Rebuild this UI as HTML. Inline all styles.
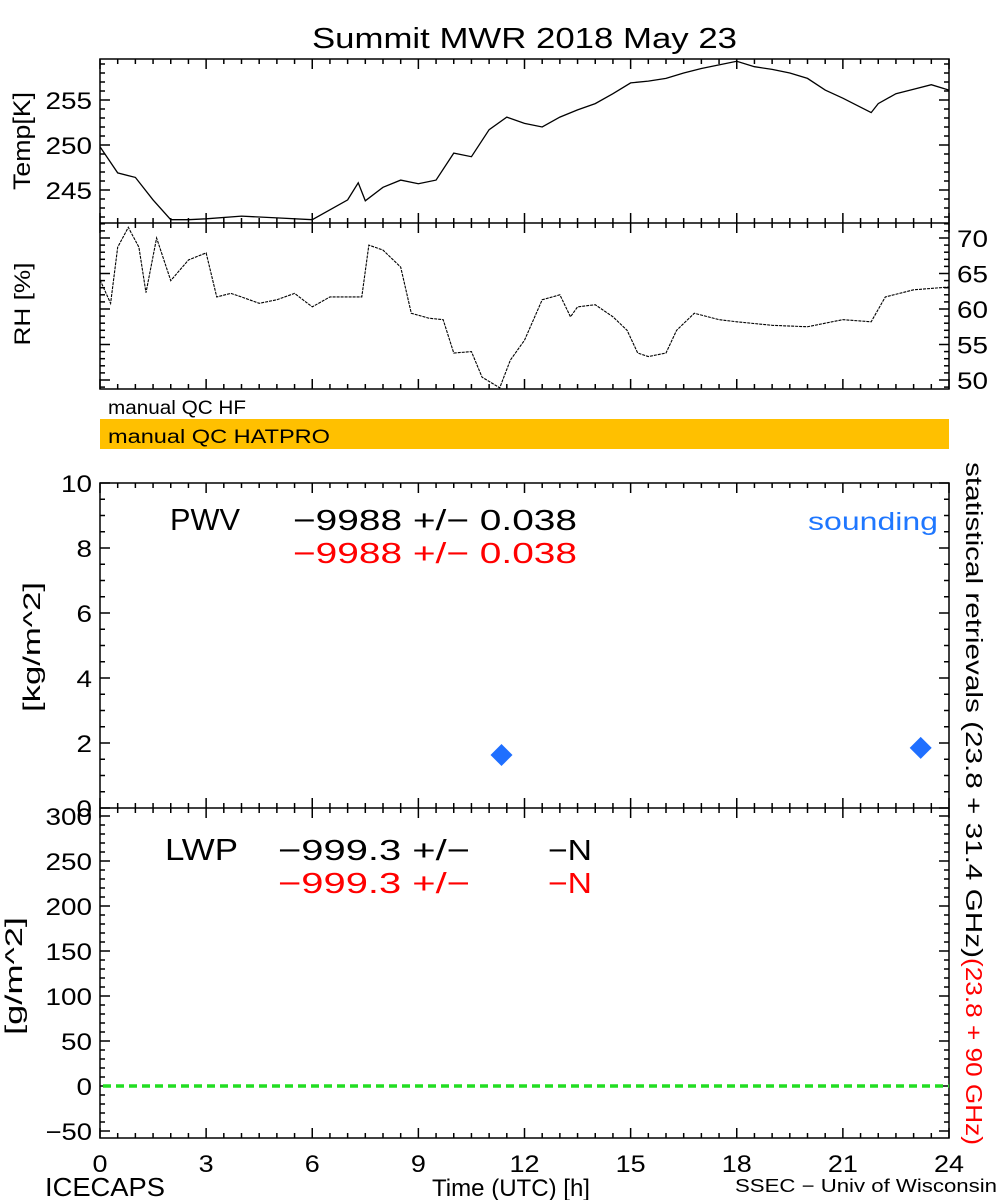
<!DOCTYPE html>
<html><head><meta charset="utf-8"><style>
html,body{margin:0;padding:0;background:#fff}
svg{display:block}
text{font-family:"Liberation Sans","DejaVu Sans",sans-serif}
</style></head><body>
<svg id="c" width="1000" height="1200" viewBox="0 0 1000 1200" xmlns="http://www.w3.org/2000/svg">
<text x="312" y="48" font-size="29" textLength="425" lengthAdjust="spacingAndGlyphs">Summit MWR 2018 May 23</text>
<text transform="translate(30,141) rotate(-90)" font-size="24" text-anchor="middle" textLength="98" lengthAdjust="spacingAndGlyphs">Temp[K]</text>
<text transform="translate(30,304) rotate(-90)" font-size="22" text-anchor="middle" textLength="83" lengthAdjust="spacingAndGlyphs">RH [%]</text>
<text transform="translate(40,647) rotate(-90)" font-size="24" text-anchor="middle" textLength="130" lengthAdjust="spacingAndGlyphs">[kg/m^2]</text>
<text transform="translate(22,976) rotate(-90)" font-size="24" text-anchor="middle" textLength="118" lengthAdjust="spacingAndGlyphs">[g/m^2]</text>
<text transform="translate(966,462) rotate(90)" font-size="23" textLength="496" lengthAdjust="spacingAndGlyphs">statistical retrievals (23.8 + 31.4 GHz)</text>
<text transform="translate(966,958) rotate(90)" font-size="23" fill="#ff0000" textLength="187" lengthAdjust="spacingAndGlyphs">(23.8 + 90 GHz)</text>
<text x="108" y="414" font-size="19" textLength="138" lengthAdjust="spacingAndGlyphs">manual QC HF</text>
<rect x="100" y="419" width="849" height="30" fill="#ffc000"/>
<text x="108" y="443" font-size="19" textLength="222" lengthAdjust="spacingAndGlyphs">manual QC HATPRO</text>
<text x="170" y="530" font-size="31" textLength="70" lengthAdjust="spacingAndGlyphs">PWV</text>
<text x="293" y="530" font-size="29" textLength="284" lengthAdjust="spacingAndGlyphs">−9988 +/− 0.038</text>
<text x="293" y="563" font-size="29" fill="#ff0000" textLength="284" lengthAdjust="spacingAndGlyphs">−9988 +/− 0.038</text>
<text x="808" y="530" font-size="25" fill="#1f77ff" textLength="130" lengthAdjust="spacingAndGlyphs">sounding</text>
<text x="165" y="860" font-size="31" textLength="73" lengthAdjust="spacingAndGlyphs">LWP</text>
<text x="278" y="860" font-size="29" textLength="192" lengthAdjust="spacingAndGlyphs">−999.3 +/−</text>
<text x="548" y="860" font-size="29" textLength="44" lengthAdjust="spacingAndGlyphs">−N</text>
<text x="278" y="893" font-size="29" fill="#ff0000" textLength="192" lengthAdjust="spacingAndGlyphs">−999.3 +/−</text>
<text x="548" y="893" font-size="29" fill="#ff0000" textLength="44" lengthAdjust="spacingAndGlyphs">−N</text>
<text x="45" y="1196" font-size="26" textLength="120" lengthAdjust="spacingAndGlyphs">ICECAPS</text>
<text x="432" y="1196" font-size="24" textLength="158" lengthAdjust="spacingAndGlyphs">Time (UTC) [h]</text>
<text x="735" y="1192" font-size="18" textLength="262" lengthAdjust="spacingAndGlyphs">SSEC − Univ of Wisconsin</text>
</svg>
<script>
const tempHours=[0,0.5,1,1.5,2,2.5,3,4,5,6,6.5,7,7.3,7.5,8,8.5,9,9.5,10,10.5,11,11.5,12,12.5,13,13.5,14,14.5,15,15.5,16,16.5,17,17.5,18,18.5,19,19.5,20,20.5,21,21.5,21.8,22,22.5,23,23.5,24];
const tempValues=[249.8,246.9,246.4,243.9,241.7,241.7,241.8,242.1,241.9,241.7,242.8,243.9,245.8,243.8,245.3,246.1,245.7,246.1,249.1,248.7,251.7,253.1,252.4,252,253.1,253.9,254.6,255.7,256.9,257.1,257.4,258,258.5,258.9,259.3,258.7,258.4,258,257.4,256.1,255.2,254.2,253.6,254.6,255.7,256.2,256.7,256.1];
const rhHours=[0,0.3,0.5,0.8,1.1,1.3,1.6,2,2.5,3,3.3,3.7,4,4.5,5,5.5,6,6.5,7,7.4,7.6,8,8.5,8.8,9.3,9.7,10,10.5,10.8,11.3,11.6,12,12.5,13,13.3,13.5,14,14.5,14.9,15.2,15.5,16,16.3,16.8,17.5,18,19,20,21,21.8,22.2,23,24];
const rhValues=[64.1,60.8,68.7,71.5,68.7,62.3,70,64,66.9,67.9,61.7,62.2,61.7,60.8,61.3,62.2,60.3,61.7,61.7,61.7,69,68.3,65.9,59.4,58.7,58.5,53.8,54,50.4,48.9,52.8,55.6,61.3,62,58.9,60.3,60.6,58.9,57,53.8,53.3,53.8,57,59.4,58.5,58.2,57.7,57.5,58.5,58.2,61.7,62.7,63.1];
const soundHours=[11.35,23.2];
const soundPwv=[1.63,1.85];
const lwpLineValue=[0];
const xTicks=[0,3,6,9,12,15,18,21,24];
const tempTicks=[245,250,255];
const rhTicks=[50,55,60,65,70];
const pwvTicks=[0,2,4,6,8,10];
const lwpTicks=[-50,0,50,100,150,200,250,300];

const svg=document.getElementById('c');
const NS='http://www.w3.org/2000/svg';
const X0=100,X1=949;
const x=h=>X0+h/24*(X1-X0);
const lin=(d0,d1,r0,r1)=>v=>r0+(v-d0)/(d1-d0)*(r1-r0);
const yT=lin(245,255,190,100), yR=lin(50,70,380,238), yP=lin(0,10,808,483), yL=lin(-50,300,1131,816);
function mk(tag,a){const e=document.createElementNS(NS,tag);for(const k in a)e.setAttribute(k,a[k]);svg.appendChild(e);return e;}
function line(x1,y1,x2,y2){return mk('line',{x1,y1,x2,y2,stroke:'#000','stroke-width':1.5});}
[[59,389],[483,1138]].forEach(([t,b])=>{const r=mk('rect',{x:X0,y:t,width:X1-X0,height:b-t,fill:'none',stroke:'#000','stroke-width':1.5});

});
let d1=line(X0,223,X1,223);
let d2=line(X0,808,X1,808);
[[59,1],[223,1],[223,-1],[389,-1],[483,1],[808,1],[808,-1],[1138,-1]].forEach(([y0,dir])=>{
 for(let h=0;h<=24.001;h+=0.5){const maj=Math.abs(h%3)<0.01;line(x(h),y0,x(h),y0+dir*(maj?10:5));}
});
xTicks.forEach(h=>{const s=String(h);const t=mk('text',{x:x(h),y:1172,'font-size':24,'text-anchor':'middle',textLength:s.length*15,lengthAdjust:'spacingAndGlyphs'});t.textContent=s;

});
function yAxis(sc,lo,hi,minor,labels,side,top,bot){
 for(let v=lo;v<=hi+1e-6;v+=minor){const yy=sc(v);if(yy<top-0.5||yy>bot+0.5)continue;
  const m=labels.some(l=>Math.abs(l-v)<1e-6);const L=m?10:5;
  line(X0,yy,X0+L,yy);line(X1,yy,X1-L,yy);}
 labels.forEach(v=>{const s=String(v).replace('-','−');const t=mk('text',{x:side==='l'?92:957,y:sc(v)+9,'font-size':24,'text-anchor':side==='l'?'end':'start',textLength:s.length*15.5,lengthAdjust:'spacingAndGlyphs'});t.textContent=s;
 
 });
}
yAxis(yT,241,260,1,tempTicks,'l',59,223);
yAxis(yR,48,72,1,rhTicks,'r',223,389);
yAxis(yP,0,10,0.5,pwvTicks,'l',483,808);
yAxis(yL,-60,310,10,lwpTicks,'l',808,1138);
const tp=mk('polyline',{points:tempHours.map((h,i)=>x(h)+','+yT(tempValues[i])).join(' '),fill:'none',stroke:'#000','stroke-width':1.3});


const rp=mk('polyline',{points:rhHours.map((h,i)=>x(h)+','+yR(rhValues[i])).join(' '),fill:'none',stroke:'#000','stroke-width':1.1,'stroke-dasharray':'3 1'});


lwpLineValue.forEach(v=>{const g=mk('line',{x1:X0+3,x2:X1,y1:yL(v),y2:yL(v),stroke:'#22dd22','stroke-width':3.5,'stroke-dasharray':'8 5'});

});
soundHours.forEach((h,i)=>{const cx=x(h),cy=yP(soundPwv[i]),r=11;
 const p=mk('polygon',{points:`${cx},${cy-r} ${cx+r},${cy} ${cx},${cy+r} ${cx-r},${cy}`,fill:'#1f6fff'});
 
 });
</script>
</body></html>
